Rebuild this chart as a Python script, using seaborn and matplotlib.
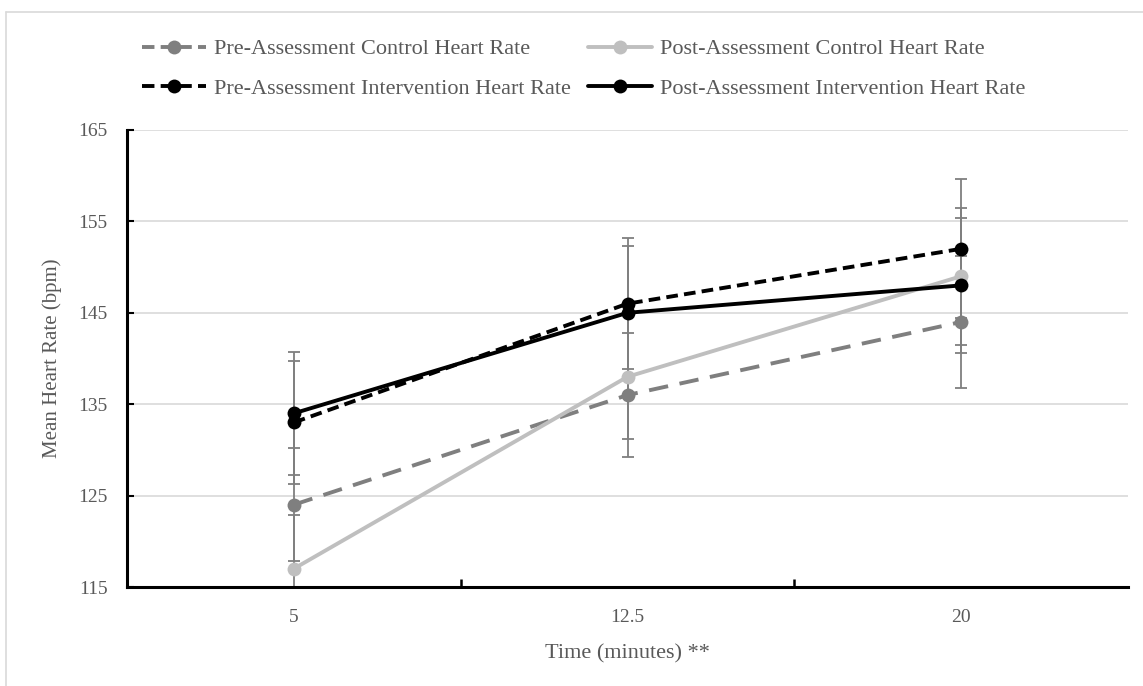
import matplotlib
matplotlib.use("Agg")
import matplotlib.pyplot as plt
from matplotlib.lines import Line2D
import seaborn as sns
import pandas as pd

# ---- data ----
times = ["5", "12.5", "20"]
series_names = [
    "Pre-Assessment Control Heart Rate",
    "Post-Assessment Control Heart Rate",
    "Pre-Assessment Intervention Heart Rate",
    "Post-Assessment Intervention Heart Rate",
]
pre_control = [124, 136, 144]
post_control = [117, 138, 149]
pre_interv = [133, 146, 152]
post_interv = [134, 145, 148]

pre_control_err = [6.2, 6.8, 7.2]
post_control_err = [5.9, 6.8, 7.5]
pre_interv_err = [6.7, 7.2, 7.6]
post_interv_err = [6.7, 7.3, 7.4]

yticks = [115, 125, 135, 145, 155, 165]

values = [pre_control, post_control, pre_interv, post_interv]
errors = [pre_control_err, post_control_err, pre_interv_err, post_interv_err]
colors = ["#7f7f7f", "#bfbfbf", "#000000", "#000000"]
dash_styles = [(5.0, 3.0), "", (3.0, 1.6), ""]

rows = []
for name, vals in zip(series_names, values):
    for i, v in enumerate(vals):
        rows.append({"pos": i, "time": times[i], "series": name, "hr": v})
df = pd.DataFrame(rows)

sns.set_theme(style="white")
plt.rcParams["font.family"] = ["Liberation Serif", "DejaVu Serif"]

fig = plt.figure(figsize=(11.43, 6.86), dpi=100)
ax = fig.add_axes([127 / 1143, 1 - 587 / 686, (1128 - 127) / 1143, (587 - 130) / 686])

# error bars (beneath lines)
for vals, errs in zip(values, errors):
    ax.errorbar(range(len(times)), vals, yerr=errs, fmt="none", ecolor="#7f7f7f",
                elinewidth=1.3, capsize=4.5, capthick=1.3, zorder=2)

palette = dict(zip(series_names, colors))
dashes = dict(zip(series_names, dash_styles))
markers = {n: "o" for n in series_names}
sns.lineplot(data=df, x="pos", y="hr", hue="series", style="series",
             hue_order=series_names, style_order=series_names,
             palette=palette, dashes=dashes, markers=markers,
             linewidth=2.8, markersize=10, markeredgewidth=0,
             errorbar=None, ax=ax, zorder=3)

leg = ax.get_legend()
hmap = dict(zip([t.get_text() for t in leg.texts], leg.legend_handles))
leg.remove()
# row-wise order for a 2-column legend (matplotlib fills columns first)
order = [series_names[0], series_names[2], series_names[1], series_names[3]]
handles = [hmap[n] for n in order]
for h in handles:
    if h.get_linestyle() not in ("-", "solid"):
        h.set_dashes((3.2, 1.6))

ax.set_xlim(-0.5, 2.5)
ax.set_ylim(115, 165)
ax.set_yticks(yticks)
ax.set_xticks(range(len(times)))
ax.set_xticklabels(times)
ax.set_xticks([0.5, 1.5], minor=True)

ax.yaxis.grid(True, color="#d9d9d9", linewidth=1.2)
ax.set_axisbelow(True)
for s in ["top", "right"]:
    ax.spines[s].set_visible(False)
for s in ["left", "bottom"]:
    ax.spines[s].set_visible(True)
    ax.spines[s].set_color("black")
    ax.spines[s].set_linewidth(2.2)

tick_col = "#595959"
ax.tick_params(axis="y", which="major", direction="in", length=5, width=1.5,
               color="black", labelsize=14, labelcolor=tick_col, pad=14, left=True)
ax.tick_params(axis="x", which="major", length=0, labelsize=14, labelcolor=tick_col, pad=16)
ax.tick_params(axis="x", which="minor", direction="in", length=6, width=1.8,
               color="black", bottom=True)

ax.set_xlabel("Time (minutes) **", fontsize=16, color=tick_col, labelpad=13)
ax.set_ylabel("Mean Heart Rate (bpm)", fontsize=15, color=tick_col, labelpad=12)

fig.legend(handles, order, loc="upper left", bbox_to_anchor=(133 / 1143, 1 - 30 / 686),
           ncol=2, frameon=False, fontsize=16, labelcolor=tick_col,
           handlelength=2.9, handletextpad=0.35, columnspacing=0.75, labelspacing=0.85,
           borderaxespad=0)

# light frame around the chart area
fig.add_artist(Line2D([6 / 1143, 1], [1 - 12 / 686, 1 - 12 / 686], transform=fig.transFigure,
                      color="#d9d9d9", linewidth=1.2))
fig.add_artist(Line2D([6 / 1143, 6 / 1143], [0, 1 - 12 / 686], transform=fig.transFigure,
                      color="#d9d9d9", linewidth=1.2))

fig.savefig("out.png", dpi=100)
